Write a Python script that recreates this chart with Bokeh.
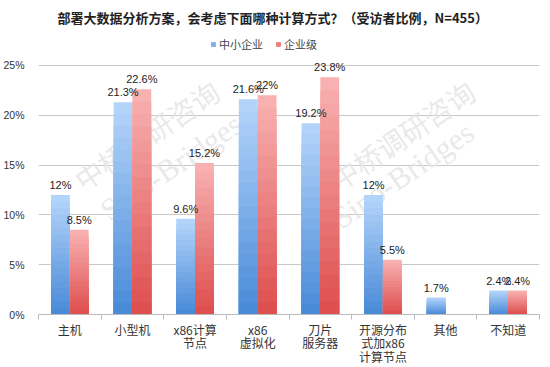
from bokeh.plotting import figure
from bokeh.models import (ColumnDataSource, Range1d, FixedTicker, PrintfTickFormatter,
                          LabelSet, Legend, LegendItem, Label)
from bokeh.core.properties import value
from bokeh.embed import file_html
from bokeh.resources import INLINE

# ---- data ----
categories = ["主机", "小型机", "x86计算\n节点", "x86\n虚拟化", "刀片\n服务器",
              "开源分布\n式加x86\n计算节点", "其他", "不知道"]
sme = [12, 21.3, 9.6, 21.6, 19.2, 12, 1.7, 2.4]          # 中小企业
enterprise = [8.5, 22.6, 15.2, 22, 23.8, 5.5, 0, 2.4]    # 企业级
series_names = ["中小企业", "企业级"]
y_ticks = [0, 5, 10, 15, 20, 25]
title = "部署大数据分析方案，会考虑下面哪种计算方式？（受访者比例，N=455）"

CJK = "Noto Sans CJK SC"
n = len(categories)
centers = [i + 0.5 for i in range(n)]
bar_w = 0.3
x_blue = [c - bar_w / 2 for c in centers]
x_red = [c + bar_w / 2 for c in centers]

p = figure(frame_width=501, frame_height=282, output_backend="svg", toolbar_location=None,
           x_range=Range1d(0, n), y_range=Range1d(0, 28.3),
           min_border_left=28, min_border_right=5, min_border_top=0, min_border_bottom=0)
p.outline_line_color = None

p.title.text = title
p.title.align = "left"
p.title.offset = 19
p.title.standoff = 11
p.title.text_font = CJK
p.title.text_font_size = "13px"
p.title.text_font_style = "bold"
p.title.text_color = "#222222"

def interp(c1, c2, t):
    a = [int(c1[i:i+2], 16) for i in (1, 3, 5)]
    b = [int(c2[i:i+2], 16) for i in (1, 3, 5)]
    return "#%02x%02x%02x" % tuple(int(round(x + (y - x) * t)) for x, y in zip(a, b))

def gradient_bars(xs, vals, top_col, bot_col, steps=18):
    rends = []
    for k in range(steps):
        frac = 1 - k / steps
        col = interp(top_col, bot_col, k / (steps - 1))
        src = ColumnDataSource(dict(x=xs, top=[v * frac for v in vals]))
        r = p.vbar(x="x", top="top", width=bar_w, source=src,
                   fill_color=col, line_color=None)
        rends.append(r)
    return rends

blue_r = gradient_bars(x_blue, sme, "#b3d4fa", "#4a8bd8")
red_r = gradient_bars(x_red, enterprise, "#f8b0b0", "#de4f4f")

def fmt(v):
    return "" if v == 0 else f"{v:g}%"

for xs, vals in ((x_blue, sme), (x_red, enterprise)):
    src = ColumnDataSource(dict(x=xs, y=vals, t=[fmt(v) for v in vals]))
    p.add_layout(LabelSet(x="x", y="y", text="t", source=src, y_offset=4,
                          text_align="center", text_baseline="bottom",
                          text_font=value("Liberation Sans"), text_font_size="11px",
                          text_color="#222222"))

# watermark
for (x, y, t, f, fs) in ((0.8, 11.6, "中桥调研咨询", CJK, "28px"),
                         (1.2, 8.7, "Sino-Bridges", "Liberation Serif", "31px"),
                         (4.88, 11.6, "中桥调研咨询", CJK, "28px"),
                         (4.9, 7.9, "Sino-Bridges", "Liberation Serif", "31px")):
    p.add_layout(Label(x=x, y=y, text=t, text_font=f, text_font_size=fs, angle=0.6,
                       text_color="#e4e4e4", text_alpha=0.8, level="underlay"))

# axes
p.yaxis.ticker = FixedTicker(ticks=y_ticks)
p.yaxis.formatter = PrintfTickFormatter(format="%d%%")
p.yaxis.axis_line_color = None
p.yaxis.major_tick_line_color = None
p.yaxis.minor_tick_line_color = None
p.yaxis.major_label_text_font = "Liberation Sans"
p.yaxis.major_label_text_font_size = "10.5px"
p.yaxis.major_label_text_color = "#333333"
p.yaxis.major_label_standoff = 8

p.xaxis.ticker = FixedTicker(ticks=centers, minor_ticks=list(range(n + 1)))
p.xaxis.major_label_overrides = {c: lab for c, lab in zip(centers, categories)}
p.xaxis.axis_line_color = "#bbbbbb"
p.xaxis.major_tick_line_color = None
p.xaxis.minor_tick_line_color = "#bbbbbb"
p.xaxis.minor_tick_out = 5
p.xaxis.major_label_text_font = CJK
p.xaxis.major_label_text_font_size = "12px"
p.xaxis.major_label_text_color = "#333333"
p.xaxis.major_label_text_line_height = 0.8
p.xaxis.major_label_standoff = 0

p.xgrid.grid_line_color = None
p.ygrid.grid_line_color = "#c8c8c8"
p.ygrid.ticker = FixedTicker(ticks=y_ticks)

legend = Legend(items=[LegendItem(label=series_names[0], renderers=[blue_r[9]]),
                       LegendItem(label=series_names[1], renderers=[red_r[9]])],
                orientation="horizontal", location=(172, 262),
                label_text_font=CJK, label_text_font_size="11px", label_text_color="#444444",
                glyph_width=6, glyph_height=6, label_standoff=3, spacing=12,
                padding=2, margin=0, border_line_color=None, background_fill_alpha=0)
p.add_layout(legend)

open("out.html", "w").write(file_html(p, INLINE))
